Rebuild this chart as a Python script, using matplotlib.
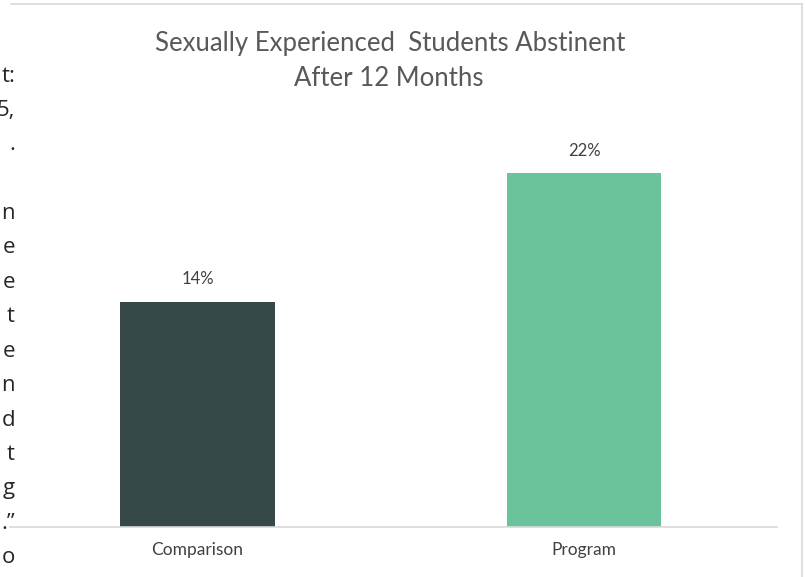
import matplotlib.pyplot as plt
from matplotlib.lines import Line2D

# data
categories = ["Comparison", "Program"]
values = [14, 22]
value_labels = ["14%", "22%"]
bar_colors = ["#374849", "#6bc39c"]
title_lines = ["Sexually Experienced  Students Abstinent", "After 12 Months"]
# clipped fragments of the document text on the left edge
side_text = ["t:", "5,", ".", "", "n", "e", "e", "t", "e", "n", "d", "t", "g", ".\u201d", "o"]

W, H = 805, 577
fig = plt.figure(figsize=(W / 100, H / 100), dpi=100)
fig.patch.set_facecolor("white")


def px(x, y):
    # pixel coords (from top-left) -> figure fraction
    return x / W, 1 - y / H


# plot area
ax_left, ax_right, ax_top, ax_bottom = 10, 777, 120, 527
ax = fig.add_axes([ax_left / W, 1 - ax_bottom / H,
                   (ax_right - ax_left) / W, (ax_bottom - ax_top) / H])
ax.bar(range(len(values)), values, width=0.4, color=bar_colors)
ax.set_xlim(-0.485, 1.499)
ax.set_ylim(0, (ax_bottom - ax_top) / 16.1)

for i, (v, lab) in enumerate(zip(values, value_labels)):
    ax.annotate(lab, (i, v), xytext=(0, 16), textcoords="offset points",
                ha="center", va="center", fontsize=12, color="#404040",
                family="Lato")

ax.set_xticks(range(len(categories)))
ax.set_xticklabels(categories, fontsize=12.5, color="#404040", family="Lato")
ax.tick_params(axis="x", length=0, pad=11)
ax.set_yticks([])
for s in ["left", "right", "top"]:
    ax.spines[s].set_visible(False)
ax.spines["bottom"].set_color("#d9d9d9")
ax.spines["bottom"].set_linewidth(1.2)

# title
fig.text(*px(390, 43), title_lines[0], ha="center", va="center",
         fontsize=18.5, color="#595959", family="Lato")
fig.text(*px(389, 78), title_lines[1], ha="center", va="center",
         fontsize=18.5, color="#595959", family="Lato")

# chart frame (top and right edges)
fig.add_artist(Line2D([11 / W, 802 / W], [1 - 4 / H, 1 - 4 / H],
                      color="#d9d9d9", lw=1.2, transform=fig.transFigure))
fig.add_artist(Line2D([802 / W, 802 / W], [1 - 4 / H, 0],
                      color="#d9d9d9", lw=1.2, transform=fig.transFigure))

# side text fragments
for k, t in enumerate(side_text):
    if t:
        fig.text(*px(15, 76 + k * 34.4), t, ha="right", va="center",
                 fontsize=16, color="#262626", family="Open Sans")

fig.savefig("out.png", dpi=100)
